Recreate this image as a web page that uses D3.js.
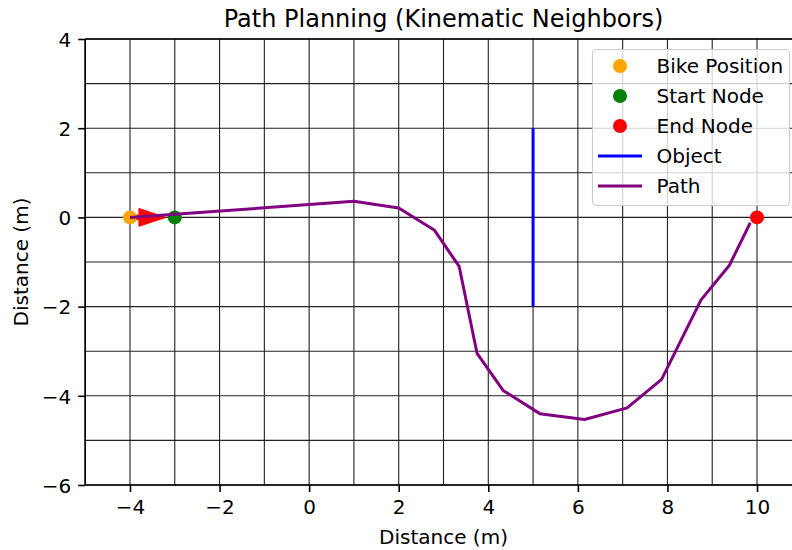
<!DOCTYPE html>
<html>
<head>
<meta charset="utf-8">
<script src="https://cdn.jsdelivr.net/npm/d3@7"></script>
<style>
  html, body { margin: 0; padding: 0; background: #fff; }
  svg { display: block; font-family: "DejaVu Sans", sans-serif; }
</style>
</head>
<body>
<svg id="chart" width="792" height="550"></svg>
<script>
// Planned path through kinematic neighbours
const pathX = [-4, -3, 1, 2, 2.8, 3.35, 3.75, 4.33, 5.15, 6.15, 7.1, 7.87, 8.75, 9.38, 9.85];
const pathY = [0, 0.07, 0.36, 0.21, -0.29, -1.1, -3.05, -3.88, -4.4, -4.53, -4.27, -3.63, -1.85, -1.08, -0.12];

// Key positions
const bikePos = [-4, 0];
const startNode = [-3, 0];
const endNode = [10, 0];

// Obstacle segment (x, y from, y to)
const objectX = [5, 5];
const objectY = [-2, 2];

// Heading arrow: dx, shaft width, head width, head length (data units)
const arrowSpec = [0.2, 0.1, 0.4, 0.6];

// Axes
const xDomain = [-5, 11];
const yDomain = [-6, 4];
const xTicks = [-4, -2, 0, 2, 4, 6, 8, 10];
const yTicks = [-6, -4, -2, 0, 2, 4];
const gridX = d3.range(-5, 12, 1);
const gridY = d3.range(-6, 5, 1);

const legendItems = [
  { label: "Bike Position", kind: "dot", color: "#ffa500" },
  { label: "Start Node", kind: "dot", color: "#008000" },
  { label: "End Node", kind: "dot", color: "#ff0000" },
  { label: "Object", kind: "line", color: "#0000ff" },
  { label: "Path", kind: "line", color: "#800080" }
];

const svg = d3.select("#chart");
const plotLeft = 85.2, plotRight = 801.8, plotTop = 39, plotBottom = 485;

const x = d3.scaleLinear().domain(xDomain).range([plotLeft, plotRight]);
const y = d3.scaleLinear().domain(yDomain).range([plotBottom, plotTop]);

const fmt = d => (d < 0 ? "\u2212" + Math.abs(d) : String(d));

// grid
const grid = svg.append("g");
grid.selectAll("line.gx").data(gridX).join("line")
  .attr("x1", d => x(d)).attr("x2", d => x(d))
  .attr("y1", plotTop).attr("y2", plotBottom)
  .attr("stroke", "#222").attr("stroke-width", 1.1);
grid.selectAll("line.gy").data(gridY).join("line")
  .attr("x1", plotLeft).attr("x2", plotRight)
  .attr("y1", d => y(d)).attr("y2", d => y(d))
  .attr("stroke", "#222").attr("stroke-width", 1.1);

// heading arrow
const [adx, aw, ahw, ahl] = arrowSpec;
const bx = bikePos[0], by = bikePos[1];
const baseX = bx + adx, tipX = bx + adx + ahl;
const arrowPts = [
  [bx, by + aw / 2], [baseX, by + aw / 2], [baseX, by + ahw / 2], [tipX, by],
  [baseX, by - ahw / 2], [baseX, by - aw / 2], [bx, by - aw / 2]
];
svg.append("path")
  .attr("d", d3.line().x(d => x(d[0])).y(d => y(d[1]))(arrowPts) + "Z")
  .attr("fill", "#ff0000").attr("stroke", "#ff0000").attr("stroke-width", 1);

// points
const dots = [
  { p: bikePos, color: "#ffa500" },
  { p: startNode, color: "#008000" },
  { p: endNode, color: "#ff0000" }
];
svg.selectAll("circle.pt").data(dots).join("circle")
  .attr("cx", d => x(d.p[0])).attr("cy", d => y(d.p[1]))
  .attr("r", 7).attr("fill", d => d.color);

// object
svg.append("line")
  .attr("x1", x(objectX[0])).attr("x2", x(objectX[1]))
  .attr("y1", y(objectY[0])).attr("y2", y(objectY[1]))
  .attr("stroke", "#0000ff").attr("stroke-width", 3);

// path
const pathData = pathX.map((v, i) => [v, pathY[i]]);
svg.append("path")
  .attr("d", d3.line().x(d => x(d[0])).y(d => y(d[1]))(pathData))
  .attr("fill", "none").attr("stroke", "#800080").attr("stroke-width", 3)
  .attr("stroke-linejoin", "round");

// spines
svg.append("line").attr("x1", plotLeft).attr("x2", plotLeft).attr("y1", plotTop).attr("y2", plotBottom)
  .attr("stroke", "#000").attr("stroke-width", 1.6);
svg.append("line").attr("x1", plotLeft).attr("x2", plotRight).attr("y1", plotBottom).attr("y2", plotBottom)
  .attr("stroke", "#000").attr("stroke-width", 1.6);
svg.append("line").attr("x1", plotLeft).attr("x2", plotRight).attr("y1", plotTop).attr("y2", plotTop)
  .attr("stroke", "#000").attr("stroke-width", 1.6);

// axes
const xAxis = d3.axisBottom(x).tickValues(xTicks).tickFormat(fmt).tickSize(7).tickPadding(7);
const yAxis = d3.axisLeft(y).tickValues(yTicks).tickFormat(fmt).tickSize(7).tickPadding(7);
const gx = svg.append("g").attr("transform", `translate(0,${plotBottom})`).call(xAxis);
const gy = svg.append("g").attr("transform", `translate(${plotLeft},0)`).call(yAxis);
[gx, gy].forEach(g => {
  g.select(".domain").remove();
  g.selectAll(".tick line").attr("stroke", "#000").attr("stroke-width", 1.6);
  g.selectAll(".tick text").attr("fill", "#000")
    .style("font-family", "DejaVu Sans").style("font-size", "20px");
});
gx.selectAll(".tick text").attr("dy", "0.76em");
gy.selectAll(".tick text").attr("dy", "0.36em");

// titles
svg.append("text").attr("x", (plotLeft + plotRight) / 2).attr("y", 27)
  .attr("text-anchor", "middle").style("font-size", "24px").text("Path Planning (Kinematic Neighbors)");
svg.append("text").attr("x", (plotLeft + plotRight) / 2).attr("y", 544)
  .attr("text-anchor", "middle").style("font-size", "20px").text("Distance (m)");
svg.append("text").attr("transform", `translate(28,${(plotTop + plotBottom) / 2}) rotate(-90)`)
  .attr("text-anchor", "middle").style("font-size", "20px").text("Distance (m)");

// legend
const lg = svg.append("g");
lg.append("rect").attr("x", 592.5).attr("y", 49.5).attr("width", 197).attr("height", 156)
  .attr("rx", 4).attr("fill", "#fff").attr("fill-opacity", 0.8)
  .attr("stroke", "#ccc").attr("stroke-width", 1.2);
const rows = lg.selectAll("g.row").data(legendItems).join("g")
  .attr("transform", (d, i) => `translate(0,${66 + i * 30})`);
rows.filter(d => d.kind === "dot").append("circle")
  .attr("cx", 620).attr("cy", 0).attr("r", 7).attr("fill", d => d.color);
rows.filter(d => d.kind === "line").append("line")
  .attr("x1", 598).attr("x2", 642).attr("y1", 0).attr("y2", 0)
  .attr("stroke", d => d.color).attr("stroke-width", 3);
rows.append("text").attr("x", 656.5).attr("y", 0).attr("dy", "0.36em")
  .style("font-size", "20px").text(d => d.label);
</script>
</body>
</html>
